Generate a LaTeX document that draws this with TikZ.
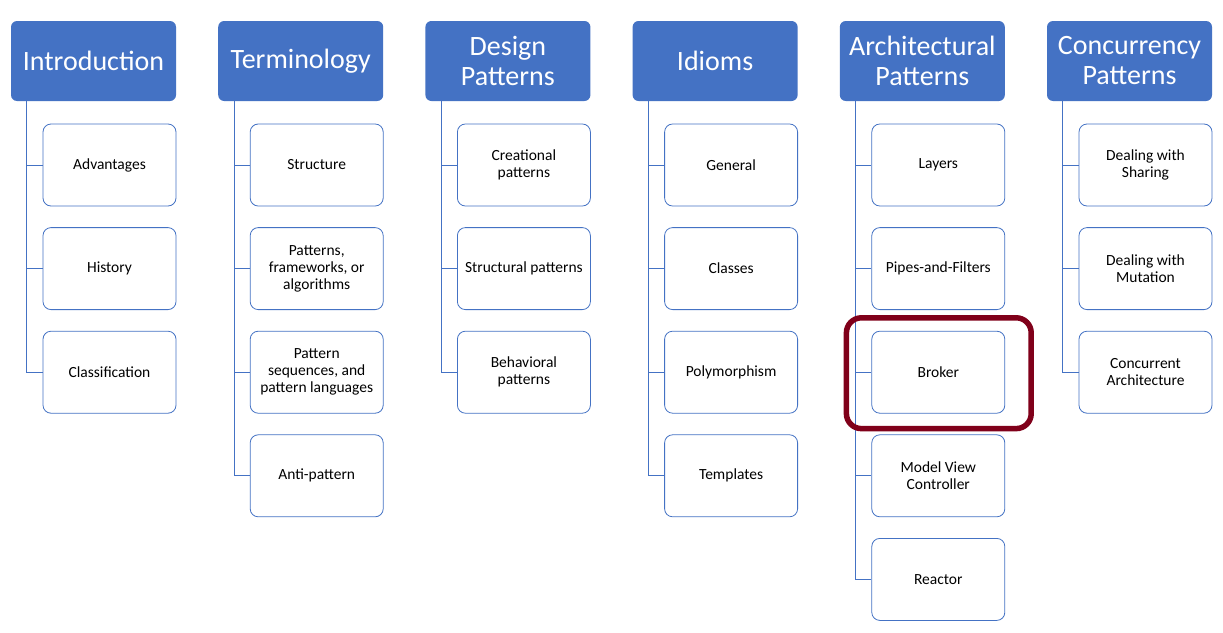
\documentclass[tikz,border=0pt]{standalone}
\usepackage{fontspec}
\setmainfont{Carlito}
\definecolor{hblue}{HTML}{4472C4}
\definecolor{hred}{HTML}{80001A}
\begin{document}
\begin{tikzpicture}[x=1pt,y=-1pt,
  head/.style={fill=hblue,draw=none,rounded corners=6pt,minimum width=165pt,minimum height=80pt,inner sep=0pt,text=white,align=center,font=\fontsize{28}{30}\selectfont},
  child/.style={fill=white,draw=hblue,line width=0.8pt,rounded corners=8pt,minimum width=133pt,minimum height=82pt,inner sep=0pt,align=center,font=\fontsize{15.5}{17}\selectfont},
  conn/.style={draw=hblue,line width=0.9pt},
  hl/.style={draw=hred,line width=5.5pt,rounded corners=15pt}]
\useasboundingbox (0,0) rectangle (1223,632);
\fill[white] (0,0) rectangle (1223,632);
% headers
\node[head] (h1) at (93.5,61) {Introduction};
\node[head] (h2) at (300.7,61) {Terminology};
\node[head] (h3) at (507.9,61) {Design\\Patterns};
\node[head] (h4) at (715.1,61) {Idioms};
\node[head] (h5) at (922.3,61) {Architectural\\Patterns};
\node[head] (h6) at (1129.5,61) {Concurrency\\Patterns};
% column 1
\node[child] (c11) at (109.5,165) {Advantages};
\node[child] (c12) at (109.5,268.6) {History};
\node[child] (c13) at (109.5,372.2) {Classification};
% column 2
\node[child] (c21) at (316.7,165) {Structure};
\node[child] (c22) at (316.7,268.6) {Patterns,\\frameworks, or\\algorithms};
\node[child] (c23) at (316.7,372.2) {Pattern\\sequences, and\\pattern languages};
\node[child] (c24) at (316.7,475.8) {Anti-pattern};
% column 3
\node[child] (c31) at (523.9,165) {Creational\\patterns};
\node[child] (c32) at (523.9,268.6) {Structural patterns};
\node[child] (c33) at (523.9,372.2) {Behavioral\\patterns};
% column 4
\node[child] (c41) at (731.1,165) {General};
\node[child] (c42) at (731.1,268.6) {Classes};
\node[child] (c43) at (731.1,372.2) {Polymorphism};
\node[child] (c44) at (731.1,475.8) {Templates};
% column 5
\node[child] (c51) at (938.3,165) {Layers};
\node[child] (c52) at (938.3,268.6) {Pipes-and-Filters};
\node[child] (c53) at (938.3,372.2) {Broker};
\node[child] (c54) at (938.3,475.8) {Model View\\Controller};
\node[child] (c55) at (938.3,579.4) {Reactor};
% column 6
\node[child] (c61) at (1145.5,165) {Dealing with\\Sharing};
\node[child] (c62) at (1145.5,268.6) {Dealing with\\Mutation};
\node[child] (c63) at (1145.5,372.2) {Concurrent\\Architecture};
% connectors
\foreach \h/\c in {h1/c11,h1/c12,h1/c13,h2/c21,h2/c22,h2/c23,h2/c24,h3/c31,h3/c32,h3/c33,h4/c41,h4/c42,h4/c43,h4/c44,h5/c51,h5/c52,h5/c53,h5/c54,h5/c55,h6/c61,h6/c62,h6/c63}
  \draw[conn] ([xshift=16pt]\h.south west) |- (\c.west);
% highlight
\draw[hl] ([xshift=-25pt,yshift=13pt]c53.north west) rectangle ([xshift=26pt,yshift=-15pt]c53.south east);
\end{tikzpicture}
\end{document}
